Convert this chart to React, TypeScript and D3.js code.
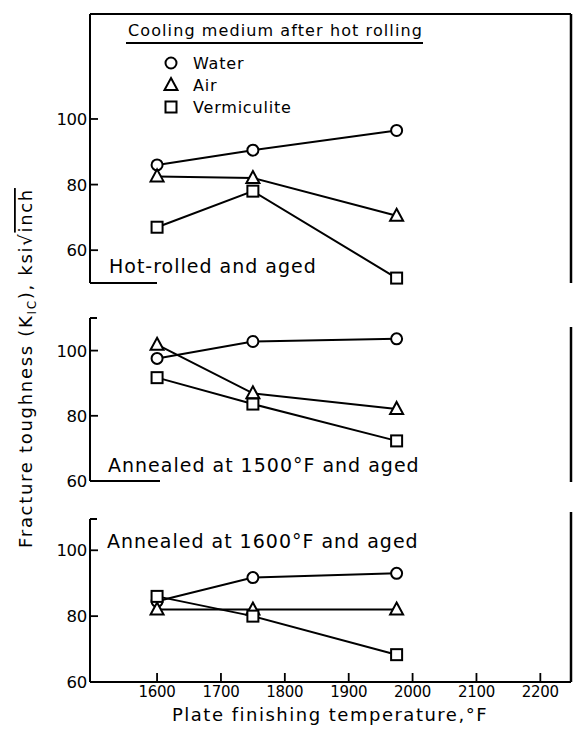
import React from "react";
import { scaleLinear, line } from "d3";

const temps = [1600, 1750, 1975];
const xTicks = [1600, 1700, 1800, 1900, 2000, 2100, 2200];
const yTicks = [60, 80, 100];

// hot-rolled and aged
const hotWater = [86, 90.5, 96.5];
const hotAir = [82.5, 82, 70.5];
const hotVerm = [67, 78, 51.5];
// annealed at 1500F
const a15Water = [97.6, 102.8, 103.6];
const a15Air = [101.8, 86.9, 82.1];
const a15Verm = [91.7, 83.6, 72.3];
// annealed at 1600F
const a16Water = [84.5, 91.7, 93];
const a16Air = [82, 82, 82];
const a16Verm = [86, 80, 68.3];

const FONT = "'DejaVu Sans', sans-serif";
const LEFT = 90;
const RIGHT = 571;

const x = scaleLinear().domain([1495, 2248]).range([LEFT, RIGHT]);

interface Panel {
  label: string;
  labelX: number;
  labelY: number;
  domain: [number, number];
  range: [number, number];
  water: number[];
  air: number[];
  verm: number[];
}

const panels: Panel[] = [
  { label: "Hot-rolled and aged", labelX: 109, labelY: 273, domain: [50, 132], range: [283, 14], water: hotWater, air: hotAir, verm: hotVerm },
  { label: "Annealed at 1500°F and aged", labelX: 108, labelY: 472, domain: [60, 110], range: [481, 318], water: a15Water, air: a15Air, verm: a15Verm },
  { label: "Annealed at 1600°F and aged", labelX: 107, labelY: 548, domain: [60, 109.5], range: [682, 519], water: a16Water, air: a16Air, verm: a16Verm },
];

function Marker({ kind, cx, cy }: { kind: string; cx: number; cy: number }) {
  const st = { fill: "#fff", stroke: "#000", strokeWidth: 2 };
  if (kind === "circle") return <circle cx={cx} cy={cy} r={5.5} {...st} />;
  if (kind === "square") return <rect x={cx - 5.5} y={cy - 5.5} width={11} height={11} {...st} />;
  return <path d={`M${cx},${cy - 7}L${cx + 6.5},${cy + 5}L${cx - 6.5},${cy + 5}Z`} {...st} />;
}

function PanelView({ p, idx }: { p: Panel; idx: number }) {
  const y = scaleLinear().domain(p.domain).range(p.range);
  const series = [
    { vals: p.water, kind: "circle" },
    { vals: p.air, kind: "triangle" },
    { vals: p.verm, kind: "square" },
  ];
  const path = line<number>()
    .x((_, i) => x(temps[i]))
    .y((d) => y(d));
  const top = p.range[1];
  const bottom = p.range[0];
  return (
    <g>
      {/* left axis */}
      <line x1={LEFT} x2={LEFT} y1={top} y2={bottom} stroke="#000" strokeWidth={2} />
      {idx === 0 ? (
        <>
          <line x1={LEFT} x2={RIGHT} y1={top} y2={top} stroke="#000" strokeWidth={2} />
          <line x1={RIGHT} x2={RIGHT} y1={top} y2={bottom} stroke="#000" strokeWidth={2.5} />
          <line x1={LEFT} x2={157} y1={bottom} y2={bottom} stroke="#000" strokeWidth={2} />
        </>
      ) : idx === 1 ? (
        <>
          <line x1={LEFT} x2={97} y1={top} y2={top} stroke="#000" strokeWidth={2} />
          <line x1={RIGHT} x2={RIGHT} y1={top + 9} y2={bottom + 1} stroke="#000" strokeWidth={2.5} />
          <line x1={LEFT} x2={160} y1={bottom} y2={bottom} stroke="#000" strokeWidth={2} />
        </>
      ) : (
        <>
          <line x1={LEFT} x2={97} y1={top} y2={top} stroke="#000" strokeWidth={2} />
          <line x1={RIGHT} x2={RIGHT} y1={top - 7} y2={bottom} stroke="#000" strokeWidth={2.5} />
          <line x1={LEFT} x2={RIGHT} y1={bottom} y2={bottom} stroke="#000" strokeWidth={2} />
          {xTicks.map((t) => (
            <g key={t}>
              <line x1={x(t)} x2={x(t)} y1={bottom} y2={bottom - 9} stroke="#000" strokeWidth={1.8} />
              <text x={x(t)} y={bottom + 15} textAnchor="middle" fontFamily={FONT} fontSize={15} letterSpacing={-0.3}>
                {t}
              </text>
            </g>
          ))}
        </>
      )}
      {yTicks.map((t) => (
        <g key={t}>
          <line x1={LEFT} x2={LEFT + 8} y1={y(t)} y2={y(t)} stroke="#000" strokeWidth={1.8} />
          <text x={LEFT - 3} y={y(t) + 6} textAnchor="end" fontFamily={FONT} fontSize={16.5} letterSpacing={-0.3}>
            {t}
          </text>
        </g>
      ))}
      <text x={p.labelX} y={p.labelY} fontFamily={FONT} fontSize={19} letterSpacing={1}>
        {p.label}
      </text>
      {series.map((s, i) => (
        <path key={i} d={path(s.vals) || ""} fill="none" stroke="#000" strokeWidth={2} />
      ))}
      {series.map((s) =>
        s.vals.map((v, i) => <Marker key={s.kind + i} kind={s.kind} cx={x(temps[i])} cy={y(v)} />)
      )}
    </g>
  );
}

const legendItems = [
  { name: "Water", kind: "circle" },
  { name: "Air", kind: "triangle" },
  { name: "Vermiculite", kind: "square" },
];

export default function App() {
  return (
    <svg width={574} height={732} style={{ position: "absolute", left: 0, top: 0, background: "#fff" }}>
      {panels.map((p, i) => (
        <PanelView key={i} p={p} idx={i} />
      ))}
      {/* legend */}
      <text x={128} y={36} fontFamily={FONT} fontSize={16} letterSpacing={1.1}>
        Cooling medium after hot rolling
      </text>
      <line x1={126} x2={423} y1={43} y2={43} stroke="#000" strokeWidth={1.8} />
      {legendItems.map((d, i) => (
        <g key={d.name}>
          <Marker kind={d.kind} cx={171} cy={63 + i * 22} />
          <text x={193} y={69 + i * 22} fontFamily={FONT} fontSize={16} letterSpacing={0.8}>
            {d.name}
          </text>
        </g>
      ))}
      {/* axis titles */}
      <text x={330} y={721} textAnchor="middle" fontFamily={FONT} fontSize={18} letterSpacing={1.5}>
        Plate finishing temperature,°F
      </text>
      <text transform="translate(32,368) rotate(-90)" textAnchor="middle" fontFamily={FONT} fontSize={18} letterSpacing={1.7}>
        Fracture toughness (K
        <tspan fontSize={12} dy={4}>IC</tspan>
        <tspan dy={-4}>), ksi√</tspan>
        <tspan textDecoration="overline">inch</tspan>
      </text>
    </svg>
  );
}
